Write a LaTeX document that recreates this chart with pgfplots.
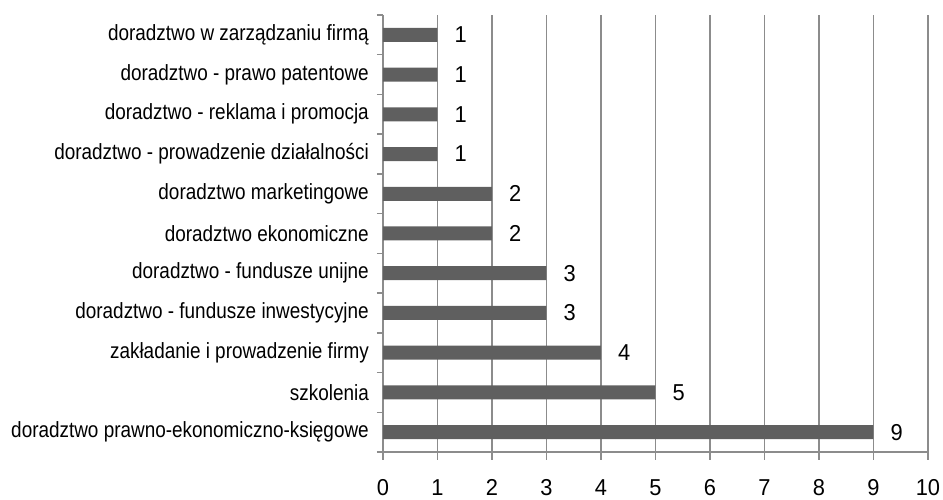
\documentclass[border=0pt]{standalone}
\usepackage{fontspec}
\setmainfont[FakeStretch=0.86]{Liberation Sans}
\newfontfamily\numfont[FakeStretch=0.95]{Liberation Sans}
\usepackage{pgfplots}
\pgfplotsset{compat=1.18}
\definecolor{barc}{HTML}{5F5F5F}
\definecolor{gridc}{HTML}{8C8C8C}
\begin{document}
\fontsize{22}{25}\selectfont
\begin{tikzpicture}
\begin{axis}[
  name=ax,
  scale only axis,
  width=545pt, height=437pt,
  xbar, bar width=14pt,
  xmin=0, xmax=10, ymin=-0.5, ymax=10.5,
  xtick={0,...,10},
  ytick={0,...,10},
  yticklabels={
    doradztwo prawno-ekonomiczno-księgowe,
    szkolenia,
    zakładanie i prowadzenie firmy,
    doradztwo - fundusze inwestycyjne,
    doradztwo - fundusze unijne,
    doradztwo ekonomiczne,
    doradztwo marketingowe,
    doradztwo - prowadzenie działalności,
    doradztwo - reklama i promocja,
    doradztwo - prawo patentowe,
    doradztwo w zarządzaniu firmą},
  minor ytick={-0.5,0.5,...,10.5},
  axis lines*=left,
  tick align=outside,
  major tick length=8pt,
  minor tick length=6pt,
  major y tick style={draw=none},
  tick style={gridc, line width=1.5pt},
  axis line style={gridc, line width=1.5pt},
  xmajorgrids,
  grid style={gridc, line width=1.5pt},
  /pgf/number format/assume math mode=true,
  ticklabel style={inner sep=0pt},
  yticklabel style={font=\fontsize{22}{25}\selectfont, xshift=-6pt},
  xticklabel style={font=\numfont\fontsize{23}{26}\selectfont, yshift=-19pt},
  nodes near coords,
  nodes near coords style={font=\numfont\fontsize{23}{26}\selectfont, anchor=west, inner sep=0pt, xshift=17pt, text=black},
]
\addplot[fill=barc, draw=none] coordinates {
  (9,0) (5,1) (4,2) (3,3) (3,4) (2,5) (2,6) (1,7) (1,8) (1,9) (1,10)};
\end{axis}
\path ([xshift=-383pt,yshift=-48pt]ax.south west) rectangle ([xshift=15pt,yshift=15pt]ax.north east);
\end{tikzpicture}
\end{document}
